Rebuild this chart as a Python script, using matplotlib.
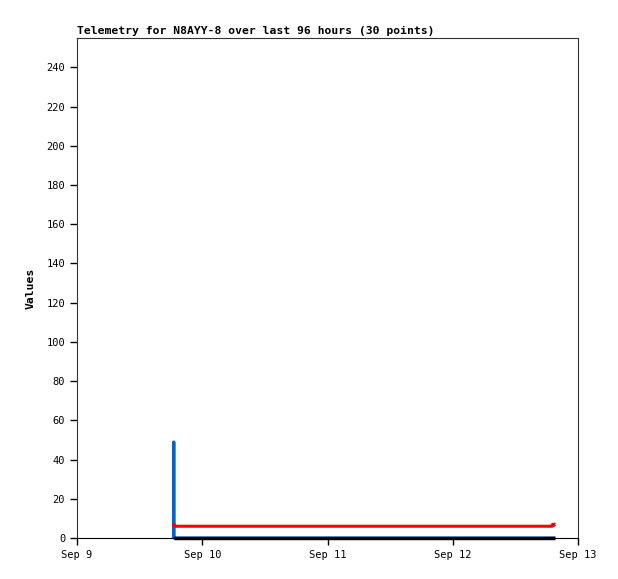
import matplotlib
matplotlib.use("Agg")
from matplotlib import pyplot as plt
import matplotlib.dates as mdates
import numpy as np
import pandas as pd

# hours after Sep 9 00:00 for each telemetry packet (30 points)
hours = [18.5, 18.55, 18.6, 18.75,
         89.6, 89.8, 90.0, 90.1, 90.2, 90.3, 90.4, 90.5, 90.6, 90.7,
         90.8, 90.9, 91.0, 91.05, 91.1, 91.15, 91.2, 91.25, 91.3, 91.35,
         91.4, 91.45, 91.5, 91.55, 91.6, 91.65]
blue = [0, 49, 0, 0] + [0] * 26
red = [6, 6, 7, 6,
       6, 6, 6, 6, 6, 6, 6, 6, 6, 6,
       6, 6, 6, 6, 6.5, 7, 6.5, 6.5, 6.8, 6.5,
       6.8, 7, 6.8, 7, 7, 7]
black = [0] * 30

start = pd.Timestamp("2023-09-09")
times = [start + pd.Timedelta(hours=h) for h in hours]

plt.rcParams['font.family'] = ['DejaVu Sans Mono']
fig = plt.figure(figsize=(6.18, 5.79), dpi=100)
ax = fig.add_axes([77 / 618, 1 - 538 / 579, 501 / 618, 500 / 579])

ax.plot(times, blue, color="#0066cc", lw=2.2, solid_capstyle="butt", clip_on=False)
ax.plot(times, red, color="#ff0000", lw=2.2, solid_capstyle="butt")
ax.plot(times, black, color="#000000", lw=2.5, solid_capstyle="butt", clip_on=False)

ax.set_xlim(start, start + pd.Timedelta(days=4))
ax.set_ylim(0, 255)
ax.set_yticks(np.arange(0, 250, 20))
ax.xaxis.set_major_locator(mdates.DayLocator())
ax.xaxis.set_major_formatter(mdates.DateFormatter("%b %-d"))
ax.tick_params(direction="out", length=5, labelsize=7.5, width=1)

for s in ["left", "top", "right"]:
    ax.spines[s].set_color("#333333")
ax.spines["bottom"].set_color("black")

ax.set_title("Telemetry for N8AYY-8 over last 96 hours (30 points)",
             loc="left", fontsize=8.2, fontweight="bold", pad=3)
ax.set_ylabel("Values", fontsize=8.2, fontweight="bold", labelpad=8)

fig.savefig("out.png", dpi=100)
